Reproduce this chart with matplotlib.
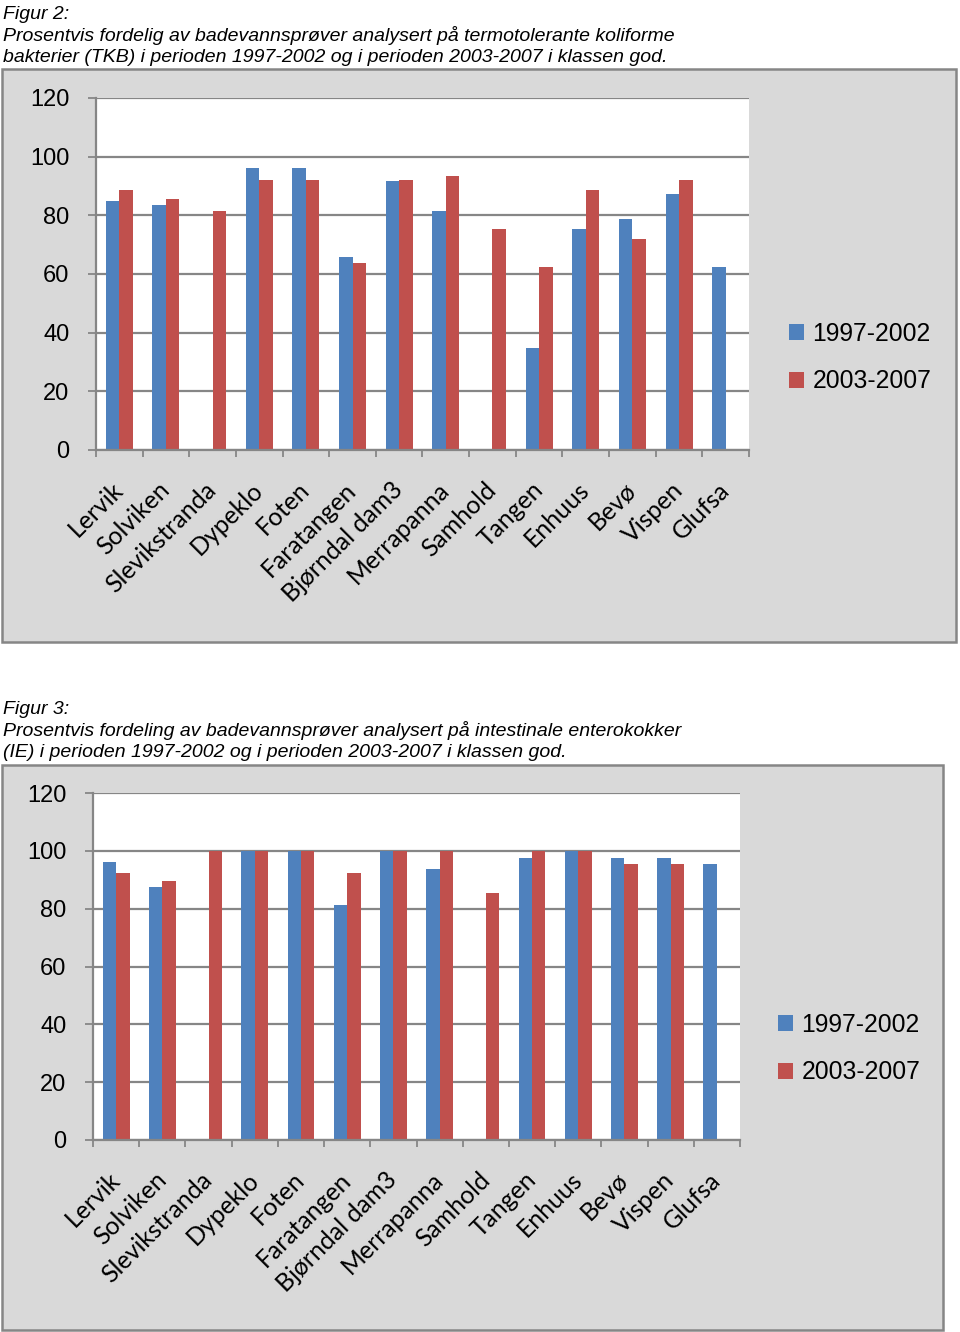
import numpy as np
import matplotlib
matplotlib.use("Agg")
import matplotlib.pyplot as plt
from matplotlib.patches import Rectangle

W, H = 960, 1332

sites = ["Lervik", "Solviken", "Slevikstranda", "Dypeklo", "Foten", "Faratangen",
         "Bjørndal dam3", "Merrapanna", "Samhold", "Tangen", "Enhuus", "Bevø",
         "Vispen", "Glufsa"]
periods = ["1997-2002", "2003-2007"]

# Figur 2: TKB, % prover i klassen god
tkb_1997_2002 = [84.8, 83.4, np.nan, 96.3, 96.3, 65.9, 91.6, 81.4, np.nan, 34.7, 75.4, 78.7, 87.4, 62.5]
tkb_2003_2007 = [88.8, 85.4, 81.4, 92.2, 92.2, 63.8, 92.2, 93.5, 75.4, 62.5, 88.8, 72.0, 92.2, np.nan]

# Figur 3: IE, % prover i klassen god
ie_1997_2002 = [96.2, 87.5, np.nan, 100, 100, 81.4, 100, 93.6, np.nan, 97.6, 100, 97.6, 97.6, 95.6]
ie_2003_2007 = [92.2, 89.5, 100, 100, 100, 92.2, 100, 100, 85.4, 100, 100, 95.6, 95.6, np.nan]

caption_2 = ["Figur 2:",
             "Prosentvis fordelig av badevannsprøver analysert på termotolerante koliforme",
             "bakterier (TKB) i perioden 1997-2002 og i perioden 2003-2007 i klassen god."]
caption_3 = ["Figur 3:",
             "Prosentvis fordeling av badevannsprøver analysert på intestinale enterokokker",
             "(IE) i perioden 1997-2002 og i perioden 2003-2007 i klassen god."]

BLUE = "#4F81BD"
RED = "#C0504D"
GRID = "#868686"
BOX = "#D9D9D9"


def px(x0, y0, x1, y1):
    # pixel box (top-left origin) -> figure fraction [left, bottom, width, height]
    return [x0 / W, 1 - y1 / H, (x1 - x0) / W, (y1 - y0) / H]


def draw_chart(fig, caption, baselines, box, plot, legend_xy, blue, red):
    for line, yb in zip(caption, baselines):
        fig.text(3 / W, 1 - yb / H, line, fontsize=14, style="italic",
                 family="Liberation Sans", va="baseline", ha="left")

    l, b, w, h = px(*box)
    fig.add_artist(Rectangle((l, b), w, h, transform=fig.transFigure,
                             facecolor=BOX, edgecolor=GRID, linewidth=1.8,
                             zorder=-5))

    ax = fig.add_axes(px(*plot))
    ax.set_facecolor("white")
    x = np.arange(len(sites))
    bw = 0.29
    b1 = ax.bar(x - bw / 2, blue, bw, color=BLUE, label=periods[0], zorder=2)
    b2 = ax.bar(x + bw / 2, red, bw, color=RED, label=periods[1], zorder=2)

    ax.set_ylim(0, 120)
    ax.set_xlim(-0.5, len(sites) - 0.5)
    ax.set_yticks(range(0, 121, 20))
    ax.yaxis.grid(True, color=GRID, linewidth=1.6)
    ax.set_axisbelow(True)
    for s in ["top", "right"]:
        ax.spines[s].set_visible(False)
    for s in ["left", "bottom"]:
        ax.spines[s].set_color(GRID)
        ax.spines[s].set_linewidth(1.6)

    ax.tick_params(axis="y", length=6, width=1.3, color=GRID, pad=13,
                   labelsize=17)
    for t in ax.get_yticklabels():
        t.set_family("Liberation Sans")

    ax.set_xticks(x)
    ax.set_xticks(np.arange(-0.5, len(sites), 1), minor=True)
    ax.tick_params(axis="x", which="major", length=0, pad=26)
    ax.tick_params(axis="x", which="minor", length=5, width=1.3, color=GRID)
    ax.set_xticklabels(sites, rotation=45, ha="right", va="center",
                       rotation_mode="anchor", fontsize=17.8, family="Lato")

    ax.legend(handles=[b1, b2], loc="upper left", frameon=False,
              bbox_to_anchor=(legend_xy[0] / W, 1 - legend_xy[1] / H),
              bbox_transform=fig.transFigure,
              prop={"family": "Liberation Sans", "size": 17.8},
              handlelength=0.6, handleheight=0.6, handletextpad=0.35,
              labelspacing=0.95, borderpad=0, borderaxespad=0)
    return ax


fig = plt.figure(figsize=(W / 100, H / 100), dpi=100)
fig.patch.set_facecolor("white")

draw_chart(fig, caption_2, [19, 41, 62], (2, 69, 956, 642), (96, 98, 749, 450),
           (789, 322), tkb_1997_2002, tkb_2003_2007)
draw_chart(fig, caption_3, [714, 736, 757], (2, 765, 943, 1330), (93, 793, 740, 1140),
           (778, 1013), ie_1997_2002, ie_2003_2007)

fig.savefig("out.png", dpi=100)
